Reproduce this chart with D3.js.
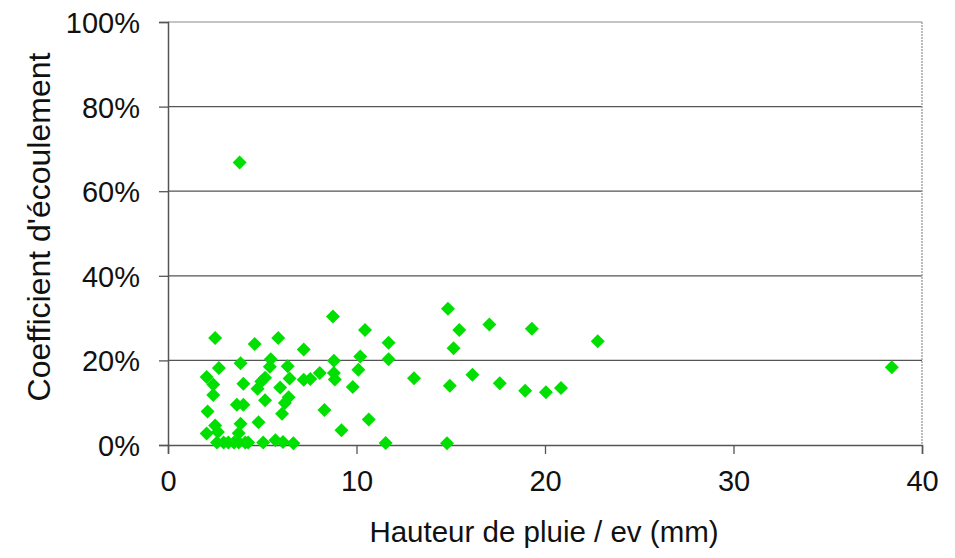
<!DOCTYPE html>
<meta charset="utf-8">
<head>
    <title>Coefficient d'écoulement</title>
    <script src="https://cdn.jsdelivr.net/npm/d3@7"></script>
    <style>
        body { margin: 0; background: #fff; }
        text { font-family: "Liberation Sans", Arial, sans-serif; fill: #111; }
    </style>
</head>
<body>
    <div id="chart"></div>

    <script>
        // rainfall per event (mm)
        var pluie = [3.8, 38.4, 2.5, 4.6, 5.85, 7.2, 8.75, 10.45, 11.7, 14.85, 15.45, 17.05, 19.3, 22.8, 15.15,
            3.85, 2.7, 5.45, 5.4, 6.35, 8.8, 10.2, 11.7, 2.05, 2.4, 2.4, 4.0, 4.95, 5.15, 4.75,
            5.95, 6.45, 7.2, 7.55, 8.05, 8.8, 8.85, 10.1, 9.8, 13.05, 14.95, 16.15, 17.6, 18.95, 20.05,
            20.85, 3.65, 4.0, 5.15, 6.4, 6.2, 6.05, 2.1, 8.3, 2.5, 3.85, 4.8, 9.2, 10.65, 2.05,
            2.65, 3.75, 2.6, 2.95, 3.2, 3.5, 3.75, 4.1, 4.25, 5.05, 5.7, 6.1, 6.65, 11.55, 14.8];
        // runoff coefficient (fraction)
        var coef = [0.668, 0.184, 0.253, 0.239, 0.253, 0.226, 0.304, 0.272, 0.242, 0.322, 0.272, 0.285, 0.275, 0.245, 0.229,
            0.193, 0.182, 0.203, 0.185, 0.186, 0.199, 0.209, 0.203, 0.161, 0.143, 0.118, 0.145, 0.150, 0.159, 0.133,
            0.136, 0.157, 0.154, 0.156, 0.170, 0.170, 0.155, 0.178, 0.137, 0.158, 0.140, 0.166, 0.146, 0.128, 0.125,
            0.135, 0.095, 0.095, 0.106, 0.113, 0.099, 0.074, 0.079, 0.083, 0.046, 0.050, 0.054, 0.035, 0.060, 0.027,
            0.031, 0.028, 0.006, 0.006, 0.006, 0.006, 0.006, 0.006, 0.006, 0.006, 0.011, 0.007, 0.004, 0.005, 0.004];

        var xTicks = [0, 10, 20, 30, 40];
        var yTicks = [0, 0.2, 0.4, 0.6, 0.8, 1.0];

        var width = 955, height = 558;
        var margin = { top: 22, right: 33, bottom: 113, left: 168 };

        var svg = d3.select("#chart").append("svg")
            .attr("width", width)
            .attr("height", height);

        var g = svg.append("g")
            .attr("transform", "translate(" + margin.left + "," + margin.top + ")");

        var w = width - margin.left - margin.right;
        var h = height - margin.top - margin.bottom;

        var x = d3.scaleLinear().domain([0, 40]).range([0, w]);
        var y = d3.scaleLinear().domain([0, 1]).range([h, 0]);

        // gridlines
        g.selectAll(".grid")
            .data(yTicks.slice(1))
            .enter().append("line")
            .attr("x1", 0).attr("x2", w)
            .attr("y1", function(d) { return y(d); })
            .attr("y2", function(d) { return y(d); })
            .style("stroke", function(d) { return d === 1 ? "#b0b0b0" : "#555"; })
            .style("stroke-width", 1.3);

        // right border
        g.append("line")
            .attr("x1", w).attr("x2", w)
            .attr("y1", 0).attr("y2", h)
            .style("stroke", "#999")
            .style("stroke-width", 1.3)
            .style("stroke-dasharray", "2,1");

        // axes
        var yAxis = d3.axisLeft(y).tickValues(yTicks)
            .tickFormat(d3.format(".0%")).tickSize(9).tickPadding(19);
        var xAxis = d3.axisBottom(x).tickValues(xTicks)
            .tickSize(9).tickPadding(16);

        var ya = g.append("g").call(yAxis);
        var xa = g.append("g").attr("transform", "translate(0," + h + ")").call(xAxis);

        [ya, xa].forEach(function(a) {
            a.select(".domain").style("stroke", "#555").style("stroke-width", 1.5);
            a.selectAll(".tick line").style("stroke", "#555").style("stroke-width", 1.3);
            a.selectAll(".tick text")
                .style("font-family", "Liberation Sans, Arial, sans-serif")
                .style("font-size", "29px")
                .style("fill", "#111");
        });
        ya.selectAll(".tick text").attr("dy", "0.36em");

        // points
        var data = pluie.map(function(p, i) { return { x: p, y: coef[i] }; });
        g.selectAll(".pt")
            .data(data)
            .enter().append("path")
            .attr("class", "pt")
            .attr("d", "M0,-7L7,0L0,7L-7,0Z")
            .attr("transform", function(d) { return "translate(" + x(d.x) + "," + y(d.y) + ")"; })
            .style("fill", "#00e000");

        // titles
        svg.append("text")
            .attr("x", 544)
            .attr("y", 542)
            .attr("text-anchor", "middle")
            .style("font-size", "29.5px")
            .text("Hauteur de pluie / ev (mm)");

        svg.append("text")
            .attr("transform", "translate(50,227) rotate(-90)")
            .attr("text-anchor", "middle")
            .style("font-size", "32px")
            .text("Coefficient d'écoulement");
    </script>
</body>
</html>
